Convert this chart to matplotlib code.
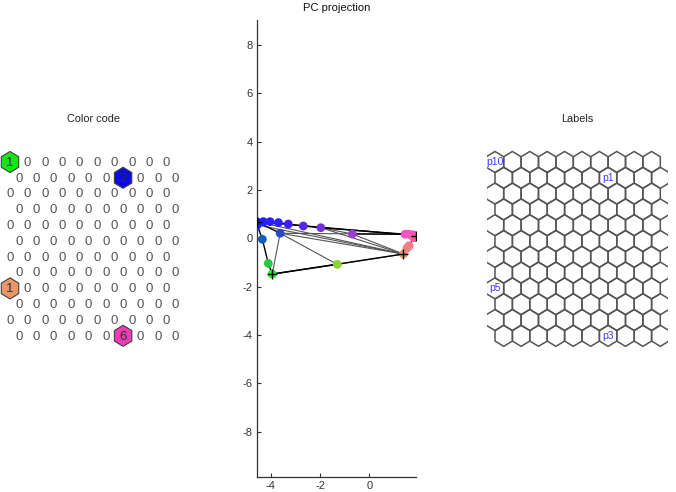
import numpy as np
import matplotlib
matplotlib.use("Agg")
import matplotlib.pyplot as plt
from matplotlib.collections import PolyCollection

plt.rcParams['font.family'] = ['Liberation Sans', 'DejaVu Sans']
plt.rcParams['axes.unicode_minus'] = False

# map size
n_rows = 12
n_cols = 10

# hits shown in the color code panel
hit_rows = [0, 1, 8, 11]
hit_cols = [0, 6, 0, 6]
hit_counts = [1, 2, 1, 6]
hit_colors = ['#14e614', '#0a0ae6', '#e8966a', '#f03cb4']

# labels panel
label_rows = [0, 1, 8, 11]
label_cols = [0, 6, 0, 6]
label_text = ['p10', 'p1', 'p5', 'p3']

# PC projection: map units
node_x = [-4.57, -4.55, -4.30, -4.03, -3.69, -3.29, -2.68, -1.97, -0.69,
          1.45, 1.60, 1.75, 1.89, 1.61, 1.52, 1.38, -3.62, -4.34, -4.10,
          -3.94, -1.30, 1.80]
node_y = [0.69, 0.55, 0.69, 0.69, 0.65, 0.59, 0.51, 0.44, 0.18,
          0.17, 0.17, 0.15, 0.11, -0.31, -0.41, -0.65, 0.21, -0.04, -1.04,
          -1.48, -1.08, 0.02]
node_colors = ['#1414d2', '#1a1aff', '#2020ff', '#2a20ff', '#3020f5', '#3c20f0',
               '#5528e8', '#7030e0', '#9a40d0', '#f050c8', '#f055c0', '#f058c0',
               '#f050c0', '#f07890', '#f08080', '#e8906a', '#2848c8', '#1460b4',
               '#28c846', '#14f014', '#8cd232', '#f0609c']
edges_dark = [(0, 2), (2, 3), (3, 4), (4, 5), (5, 6), (6, 7), (0, 12),
              (7, 9), (8, 9), (0, 1), (1, 17), (17, 18), (18, 19), (0, 16),
              (19, 20), (19, 15), (9, 10), (10, 11), (11, 12), (12, 21),
              (21, 13), (13, 14), (14, 15)]
edges_thin = [(16, 19), (20, 15), (16, 15), (16, 9), (16, 20), (1, 15),
              (8, 15), (7, 15), (0, 15), (7, 8)]

# PC projection: data samples
data_x = [-4.57, 1.89, 1.38, -3.94]
data_y = [0.69, 0.11, -0.65, -1.48]

W, H = 676, 492
fig = plt.figure(figsize=(W / 100, H / 100), dpi=100)


def px_axes(left, top, right, bottom):
    return fig.add_axes([left / W, 1 - bottom / H, (right - left) / W, (bottom - top) / H])


def hex_verts(r, c):
    x = c + 0.5 * (r % 2)
    y = r
    return [(x, y - 2 / 3), (x + 0.5, y - 1 / 3), (x + 0.5, y + 1 / 3),
            (x, y + 2 / 3), (x - 0.5, y + 1 / 3), (x - 0.5, y - 1 / 3)]


sx, sy = 17.4, 15.8

# ---- color code ----
ox, oy = 10, 162
ax1 = px_axes(ox - 0.55 * sx, oy - 0.8 * sy, ox + 10.1 * sx, oy + 11.8 * sy)
ax1.set_xlim(-0.55, 10.1)
ax1.set_ylim(11.8, -0.8)
ax1.axis('off')
hits = np.zeros((n_rows, n_cols), dtype=int)
for r, c, h in zip(hit_rows, hit_cols, hit_counts):
    hits[r, c] = h
polys = [hex_verts(r, c) for r, c in zip(hit_rows, hit_cols)]
ax1.add_collection(PolyCollection(polys, facecolors=hit_colors, edgecolors='#404040',
                                  linewidths=0.8))
for r in range(n_rows):
    for c in range(n_cols):
        ax1.text(c + 0.5 * (r % 2), r + 0.05, str(hits[r, c]), ha='center', va='center',
                 fontsize=9.5, color='#303030' if hits[r, c] else '#555555')
ax1.text(0.5, 1 + (oy - 0.8 * sy - 119) / (12.6 * sy), 'Color code', transform=ax1.transAxes,
         ha='center', va='center', fontsize=7.8, color='#222222')

# ---- labels ----
ox, oy = 495, 162
ax3 = px_axes(ox - 0.47 * sx, oy - 0.8 * sy, ox + 9.97 * sx, oy + 11.8 * sy)
ax3.set_xlim(-0.47, 9.97)
ax3.set_ylim(11.8, -0.8)
ax3.axis('off')
polys = [hex_verts(r, c) for r in range(n_rows) for c in range(n_cols)]
ax3.add_collection(PolyCollection(polys, facecolors='none', edgecolors='#555555',
                                  linewidths=1.1))
for r, c, t in zip(label_rows, label_cols, label_text):
    ax3.text(c + 0.5 * (r % 2), r, t, ha='center', va='center', fontsize=7.5,
             color='#3c3cff')
ax3.text(0.5, 1 + (oy - 0.8 * sy - 119) / (12.6 * sy), 'Labels', transform=ax3.transAxes,
         ha='center', va='center', fontsize=7.8, color='#222222')

# ---- PC projection ----
ax2 = px_axes(256.7, 20, 416, 476.7)
for a, b in edges_thin:
    ax2.plot([node_x[a], node_x[b]], [node_y[a], node_y[b]], color='#555555', lw=0.8, zorder=1)
for a, b in edges_dark:
    ax2.plot([node_x[a], node_x[b]], [node_y[a], node_y[b]], color='#000000', lw=1.0, zorder=2)
ax2.scatter(node_x, node_y, s=40, c=node_colors, linewidths=0, zorder=3)
ax2.plot(data_x, data_y, '+', color='k', ms=7, mew=1, zorder=4)
ax2.set_xlim(-4.57, 1.89)
ax2.set_ylim(-9.87, 9.04)
ax2.set_xticks([-4, -2, 0])
ax2.set_yticks(np.arange(-8, 9, 2))
ax2.spines['top'].set_visible(False)
ax2.spines['right'].set_visible(False)
for s in ['left', 'bottom']:
    ax2.spines[s].set_color('#333333')
    ax2.spines[s].set_linewidth(0.9)
ax2.tick_params(direction='in', length=3, width=0.8, labelsize=8, colors='#333333', pad=3)
ax2.text(0.5, 1.027, 'PC projection', transform=ax2.transAxes, ha='center', va='center',
         fontsize=8, color='#111111')

fig.savefig('out.png', dpi=100)
